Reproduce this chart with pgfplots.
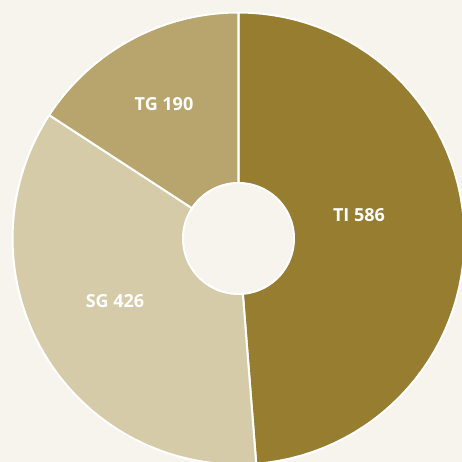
\documentclass[border=0pt]{standalone}
\usepackage{pgfplots}
\usepackage{pgfplotstable}
\pgfplotsset{compat=1.18}
\usepackage{fontspec}
\setmainfont{Open Sans}
\definecolor{bg}{HTML}{F7F4EE}
\definecolor{cTI}{HTML}{967D2F}
\definecolor{cSG}{HTML}{D6CBA9}
\definecolor{cTG}{HTML}{B7A56D}

\pgfplotstableread{
label value
TI 586
SG 426
TG 190
}\data
\pgfplotstablegetelem{0}{value}\of\data \let\vA\pgfplotsretval
\pgfplotstablegetelem{1}{value}\of\data \let\vB\pgfplotsretval
\pgfplotstablegetelem{2}{value}\of\data \let\vC\pgfplotsretval
\pgfmathsetmacro\total{\vA+\vB+\vC}
\pgfmathsetmacro\fA{\vA/\total}
\pgfmathsetmacro\fB{\vB/\total}
\pgfmathsetmacro\fC{\vC/\total}
\pgfmathsetmacro\aA{90}
\pgfmathsetmacro\aB{90-360*\fA}
\pgfmathsetmacro\aC{\aB-360*\fB}
\pgfmathsetmacro\aD{\aC-360*\fC}
\def\cx{238.5}
\def\cy{223.5}
\def\R{226}
\def\r{55.5}

\newcommand\slice[3]{%
  \addplot[fill=#3, draw=white, line width=2pt, samples at={0,1,...,60,100,101,...,160}, variable=\t]
  ({ifthenelse(\t<80, \cx+\R*cos(#1+(#2-#1)*\t/60), \cx+\r*cos(#2-(#2-#1)*(\t-100)/60))},
   {ifthenelse(\t<80, \cy+\R*sin(#1+(#2-#1)*\t/60), \cy+\r*sin(#2-(#2-#1)*(\t-100)/60))}) -- cycle;
}

\begin{document}
\begin{tikzpicture}
\begin{axis}[
  scale only axis, width=462pt, height=462pt,
  xmin=0, xmax=462, ymin=0, ymax=462,
  hide axis, clip=true,
]
\addplot[fill=bg, draw=none] coordinates {(0,0) (462,0) (462,462) (0,462)} -- cycle;
\slice{\aA}{\aB}{cTI}
\slice{\aB}{\aC}{cSG}
\slice{\aC}{\aD}{cTG}
\node[text=white, font=\bfseries\fontsize{18}{20}\selectfont] at (axis cs:359,247.3) {TI 586};
\node[text=white, font=\bfseries\fontsize{18}{20}\selectfont] at (axis cs:115,161.3) {SG 426};
\node[text=white, font=\bfseries\fontsize{18}{20}\selectfont] at (axis cs:164,358) {TG 190};
\end{axis}
\end{tikzpicture}
\end{document}
